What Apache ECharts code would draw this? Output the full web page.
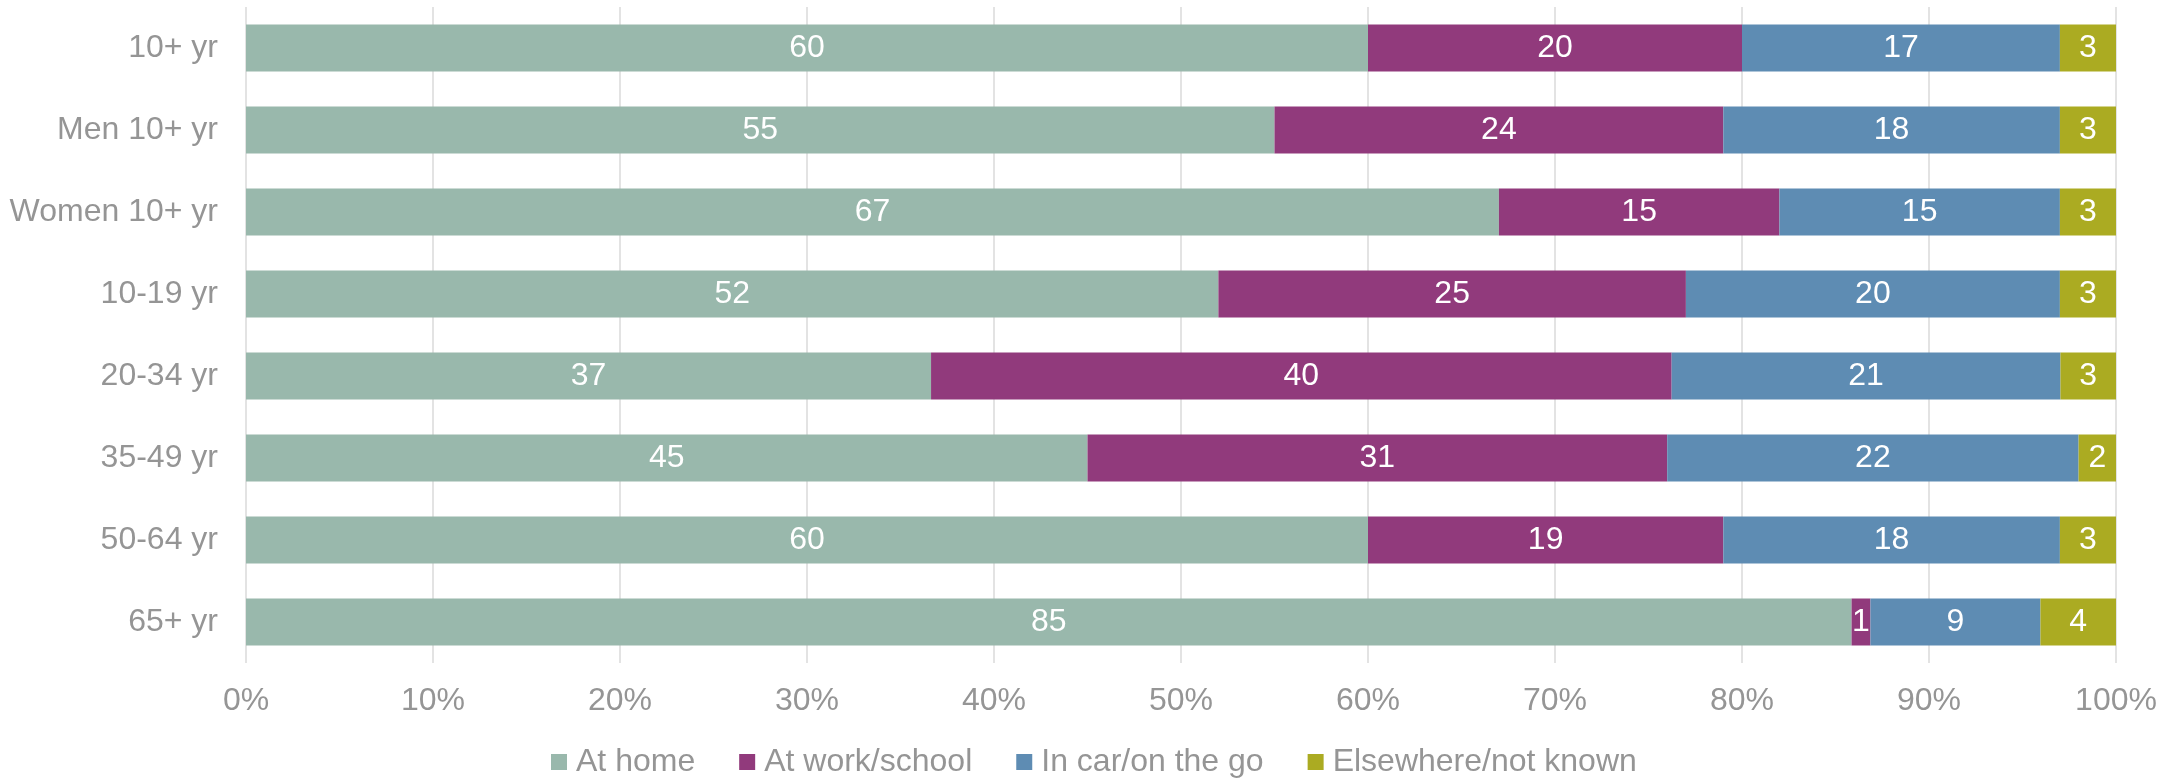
<!DOCTYPE html>
<html>
<head>
<meta charset="utf-8">
<title>Where people are</title>
<script src="https://cdn.jsdelivr.net/npm/echarts@6/dist/echarts.min.js"></script>
<style>
  html, body { margin: 0; padding: 0; background: #ffffff; }
  #chart { width: 2177px; height: 779px; }
</style>
</head>
<body>
<div id="chart"></div>
<script>
// Groups shown top to bottom
const categories = ['10+ yr', 'Men 10+ yr', 'Women 10+ yr', '10-19 yr', '20-34 yr', '35-49 yr', '50-64 yr', '65+ yr'];

// Share of each group by location (percent, as labelled)
const atHome       = [60, 55, 67, 52, 37, 45, 60, 85];
const atWorkSchool = [20, 24, 15, 25, 40, 31, 19, 1];
const inCarOnTheGo = [17, 18, 15, 20, 21, 22, 18, 9];
const elsewhere    = [3, 3, 3, 3, 3, 2, 3, 4];

const seriesNames = ['At home', 'At work/school', 'In car/on the go', 'Elsewhere/not known'];
const seriesValues = [atHome, atWorkSchool, inCarOnTheGo, elsewhere];
const colors = ['#99b8ac', '#913a7c', '#5e8cb3', '#abab22'];

const xTicks = [0, 10, 20, 30, 40, 50, 60, 70, 80, 90, 100];

// Each row is scaled so its segments fill 100%
const rowTotals = categories.map((_, i) =>
  seriesValues.reduce((s, arr) => s + arr[i], 0));

const font = '"Liberation Sans", Arial, Helvetica, sans-serif';
const textGray = '#959595';

const chart = echarts.init(document.getElementById('chart'), null, { renderer: 'canvas' });

chart.setOption({
  animation: false,
  color: colors,
  textStyle: { fontFamily: font },
  grid: { left: 246, right: 61, top: 7, bottom: 116, containLabel: false },
  legend: {
    data: seriesNames,
    left: 546,
    top: 741,
    itemWidth: 16,
    itemHeight: 16,
    itemGap: 44,
    icon: 'rect',
    textStyle: { fontSize: 32, color: textGray, fontFamily: font, padding: [0, 0, 0, 4] }
  },
  xAxis: {
    type: 'value',
    min: xTicks[0],
    max: xTicks[xTicks.length - 1],
    interval: 10,
    axisLine: { show: false },
    axisTick: { show: false },
    splitLine: { show: true, lineStyle: { color: '#e3e3e3', width: 2 } },
    axisLabel: {
      margin: 22,
      fontSize: 32,
      color: textGray,
      fontFamily: font,
      formatter: v => v + '%'
    }
  },
  yAxis: {
    type: 'category',
    data: categories,
    inverse: true,
    axisLine: { show: false },
    axisTick: { show: false },
    axisLabel: { margin: 28, fontSize: 32, color: textGray, fontFamily: font }
  },
  series: seriesNames.map((name, k) => ({
    name: name,
    type: 'bar',
    stack: 'total',
    barWidth: 47,
    data: seriesValues[k].map((v, i) => ({ value: v / rowTotals[i] * 100, raw: v })),
    label: {
      show: true,
      position: 'inside',
      color: '#ffffff',
      fontSize: 32,
      fontFamily: font,
      formatter: p => String(p.data.raw)
    },
    itemStyle: { color: colors[k] }
  }))
});
</script>
</body>
</html>
